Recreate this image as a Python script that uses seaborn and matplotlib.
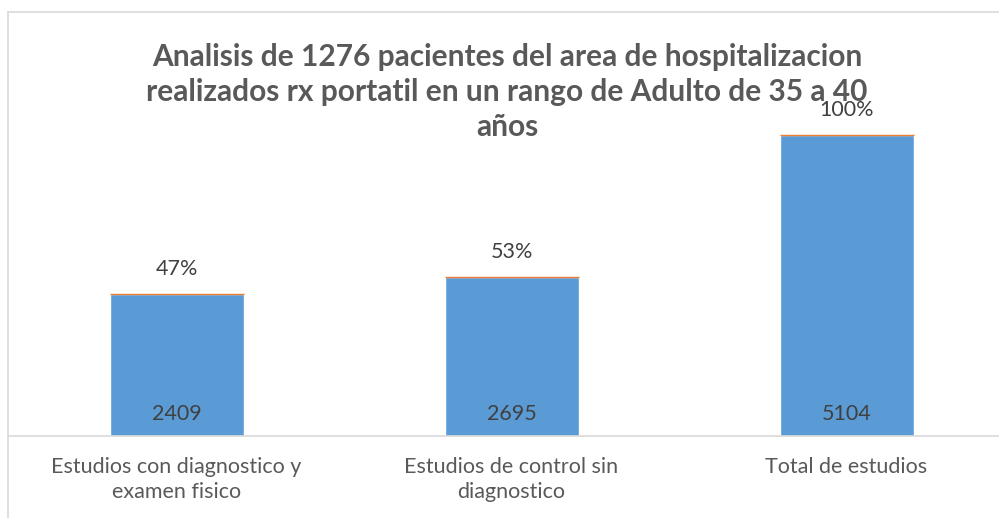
import matplotlib
matplotlib.use("Agg")
import matplotlib.pyplot as plt
import seaborn as sns
import pandas as pd
from matplotlib.lines import Line2D

# Data
categories = ["Estudios con diagnostico y\nexamen fisico",
              "Estudios de control sin\ndiagnostico",
              "Total de estudios"]
counts = [2409, 2695, 5104]
percents = [0.47, 0.53, 1.00]
pct_labels = ["47%", "53%", "100%"]
title = ("Analisis de 1276 pacientes del area de hospitalizacion\n"
         "realizados rx portatil en un rango de Adulto de 35 a 40\naños")

sns.set_style("white")
plt.rcParams['font.family'] = ['Lato', 'DejaVu Sans']

blue = "#5B9BD5"
orange = "#ED7D31"
grey_txt = "#595959"
dark_txt = "#404040"

df = pd.DataFrame({"cat": categories, "count": counts, "pct": percents})

fig = plt.figure(figsize=(9.99, 5.18), dpi=100)
W, H = 999, 518
# plot area (pixel coords), extends past the right edge like the source
x0, x1 = 9, 1014
y_base, y_top = 436, 82
ax = fig.add_axes([x0 / W, 1 - y_base / H, (x1 - x0) / W, (y_base - y_top) / H])

sns.barplot(data=df, x="cat", y="count", color=blue, width=0.4,
            saturation=1, ax=ax)
# second (stacked) series: the percentages, only a sliver on top
ax.bar(range(len(categories)), df["pct"], bottom=df["count"], width=0.4,
       color=orange, edgecolor=orange, linewidth=1.0)

ax.set_ylim(0, 6000)
ax.set_xlim(-0.5, 2.5)
ax.set_xlabel("")
ax.set_ylabel("")
ax.set_yticks([])
for s in ["top", "right", "left"]:
    ax.spines[s].set_visible(False)
ax.spines["bottom"].set_color("#D9D9D9")
ax.spines["bottom"].set_linewidth(1.2)
ax.tick_params(axis="x", length=0, pad=15, labelsize=15.5, labelcolor=grey_txt)
for lbl in ax.get_xticklabels():
    lbl.set_linespacing(1.35)

for i, (c, p) in enumerate(zip(counts, pct_labels)):
    ax.annotate(str(c), (i, 0), xytext=(0, 16), textcoords="offset points",
                ha="center", va="center", fontsize=15.5, color=dark_txt)
    ax.annotate(p, (i, c), xytext=(0, 18), textcoords="offset points",
                ha="center", va="center", fontsize=15.5, color=dark_txt)

fig.text(507 / W, 1 - 92 / H, title, ha="center", va="center",
         fontsize=21.5, fontweight="bold", color=grey_txt, linespacing=1.3)

# chart border (light grey), top and left sides visible
fig.add_artist(Line2D([8 / W, 1.0], [1 - 12 / H] * 2, color="#D9D9D9", lw=1.2))
fig.add_artist(Line2D([8 / W] * 2, [0, 1 - 12 / H], color="#D9D9D9", lw=1.2))

fig.savefig("out.png", dpi=100)
